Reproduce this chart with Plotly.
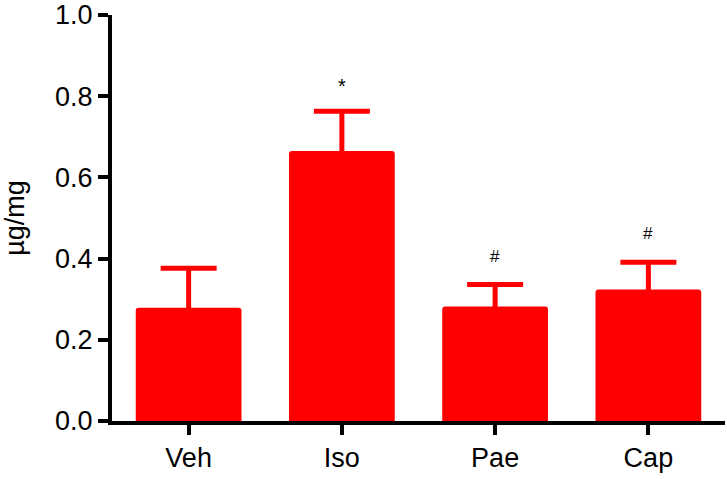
import plotly.graph_objects as go

# Données
groups = ["Veh", "Iso", "Pae", "Cap"]
means = [0.279, 0.665, 0.282, 0.324]
sem = [0.097, 0.098, 0.054, 0.067]
marks = ["", "*", "#", "#"]

RED = "#ff0000"
BLACK = "#000000"
FONT = "Liberation Sans, Arial, Helvetica, sans-serif"

fig = go.Figure()

# Barres d'erreur symétriques : la moitié basse, rouge sur rouge, reste invisible
fig.add_trace(
    go.Bar(
        x=groups,
        y=means,
        width=0.69,
        marker=dict(color=RED, line=dict(width=0), cornerradius=3),
        error_y=dict(
            type="data",
            array=sem,
            color=RED,
            thickness=5,
            width=28,
        ),
        showlegend=False,
    )
)

# Marqueurs de significativité au-dessus des barres d'erreur
for g, m, e, s in zip(groups, means, sem, marks):
    if not s:
        continue
    fig.add_annotation(
        x=g,
        y=m + e,
        text=s,
        showarrow=False,
        yanchor="bottom",
        yshift=17 if s == "#" else 12,
        font=dict(size=17 if s == "#" else 20, color=BLACK, family=FONT),
    )

fig.update_layout(
    width=727,
    height=479,
    margin=dict(l=112, r=2, t=15, b=58),
    paper_bgcolor="white",
    plot_bgcolor="white",
    font=dict(family=FONT, color=BLACK, size=27),
    xaxis=dict(
        range=[-0.5, 3.5],
        automargin=False,
        showline=True,
        linecolor=BLACK,
        linewidth=4,
        ticks="outside",
        ticklen=10,
        tickwidth=4,
        tickcolor=BLACK,
        tickfont=dict(size=27),
        showgrid=False,
        zeroline=False,
    ),
    yaxis=dict(
        range=[0, 1.0],
        automargin=False,
        ticklabeloverflow="allow",
        tickvals=[0, 0.2, 0.4, 0.6, 0.8, 1.0],
        tickformat=".1f",
        showline=True,
        linecolor=BLACK,
        linewidth=4,
        ticks="outside",
        ticklen=10,
        tickwidth=4,
        tickcolor=BLACK,
        tickfont=dict(size=27),
        showgrid=False,
        zeroline=False,
        title=dict(text="µg/mg", font=dict(size=27), standoff=30),
    ),
)

# Supprime la marge par défaut de la page pour caler le graphique en (0, 0)
fig.write_html(
    "out.html",
    config={"displayModeBar": False},
    post_script="document.body.style.margin = '0';",
)
